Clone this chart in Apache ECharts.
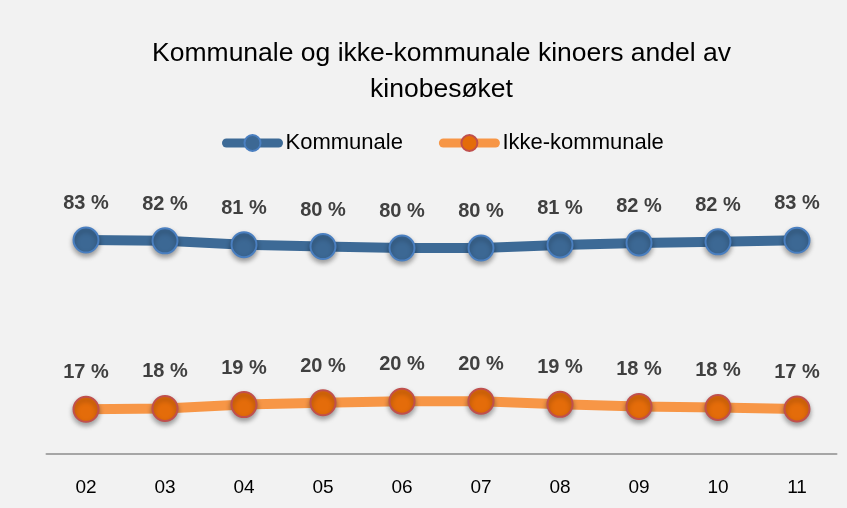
<!DOCTYPE html>
<html>
<head>
<meta charset="utf-8">
<script src="https://cdn.jsdelivr.net/npm/echarts@6/dist/echarts.min.js"></script>
<style>
html,body{margin:0;padding:0;background:#f2f2f2;}
#c{width:847px;height:508px;}
</style>
</head>
<body>
<div id="c"></div>
<script>
const categories = ['02','03','04','05','06','07','08','09','10','11'];
const kommunale = [82.7, 82.4, 80.9, 80.2, 79.6, 79.6, 80.8, 81.6, 82.0, 82.6];
const ikkeKommunale = [17.3, 17.6, 19.1, 19.8, 20.4, 20.4, 19.2, 18.4, 18.0, 17.4];
const titleText = 'Kommunale og ikke-kommunale kinoers andel av\nkinobesøket';
const seriesNames = ['Kommunale', 'Ikke-kommunale'];

const FONT = '"Liberation Sans", Arial, sans-serif';
const chart = echarts.init(document.getElementById('c'));
function labelFmt(p){ return Math.round(p.value) + ' %'; }
const labelStyle = {show:true, position:'top', distance:13, formatter:labelFmt,
  color:'#404040', fontWeight:'bold', fontSize:20, fontFamily:FONT};
chart.setOption({
  backgroundColor:'#f2f2f2',
  animation:false,
  title:{text:titleText, left:441.5, top:36, padding:0, textAlign:'center',
    textStyle:{fontFamily:FONT, fontSize:26.5, fontWeight:'normal', color:'#000', lineHeight:36}},
  legend:{top:132, left:222, padding:0, itemWidth:52, itemHeight:20, itemGap:36,
    lineStyle:{width:9, cap:'round'},
    textStyle:{fontFamily:FONT, fontSize:22, color:'#000', padding:[0,0,0,2]},
    data:seriesNames},
  grid:{left:46.5, right:10.5, top:195.3, bottom:54},
  xAxis:{type:'category', data:categories, boundaryGap:true,
    axisLine:{lineStyle:{color:'#a6a6a6', width:2}}, axisTick:{show:false},
    axisLabel:{margin:24, fontFamily:FONT, fontSize:19, color:'#000'}},
  yAxis:{type:'value', min:0, max:100, show:false, splitLine:{show:false}},
  series:[
    {name:seriesNames[0], type:'line', data:kommunale, symbol:'circle', symbolSize:25,
      lineStyle:{color:'#3d6a96', width:10},
      itemStyle:{color:'#3c6894', borderColor:'#4a7fc0', borderWidth:2,
        shadowColor:'rgba(0,0,0,0.35)', shadowBlur:5, shadowOffsetY:3},
      label:labelStyle},
    {name:seriesNames[1], type:'line', data:ikkeKommunale, symbol:'circle', symbolSize:25,
      lineStyle:{color:'#f79646', width:10},
      itemStyle:{color:'#e46c0a', borderColor:'#c0504d', borderWidth:2,
        shadowColor:'rgba(0,0,0,0.35)', shadowBlur:5, shadowOffsetY:3},
      label:labelStyle}
  ]
});
</script>
</body>
</html>
